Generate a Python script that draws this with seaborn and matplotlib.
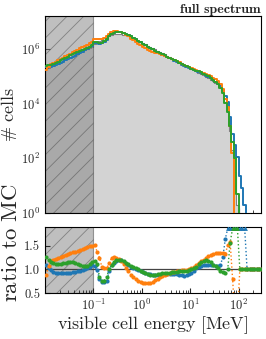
import numpy as np
import pandas as pd
import matplotlib
matplotlib.use("Agg")
import matplotlib.pyplot as plt
import seaborn as sns

# ---------------- data ----------------
# log10 bin edges of visible cell energy [MeV], 20 bins per decade
edges_log = np.linspace(-2.0, 2.5, 91)

# MC (reference) log10 counts per bin (nan = empty)
mc_log = [5.28, 5.32, 5.36, 5.41, 5.45, 5.49, 5.53, 5.57, 5.62, 5.66,
          5.70, 5.74, 5.78, 5.83, 5.87, 5.91, 5.95, 5.99, 6.04, 6.08,
          6.17, 6.22, 6.28, 6.34, 6.40, 6.45, 6.49, 6.52, 6.54, 6.55,
          6.55, 6.54, 6.52, 6.50, 6.47, 6.43, 6.39, 6.35, 6.30, 6.26,
          6.22, 6.17, 6.12, 6.08, 6.03, 5.98, 5.94, 5.89, 5.84, 5.80,
          5.75, 5.71, 5.66, 5.61, 5.57, 5.52, 5.47, 5.43, 5.38, 5.33,
          5.28, 5.23, 5.18, 5.13, 5.08, 5.03, 4.98, 4.93, 4.88, 4.82,
          4.76, 4.70, 4.60, 4.40, 4.05, 3.70, 3.00, 2.30, 1.50, 0.30] + [np.nan] * 10

INF = np.inf
ratio_blue = [1.10, 1.03, 0.98, 0.95, 0.93, 0.92, 0.92, 0.92, 0.92, 0.92,
              0.93, 0.94, 0.95, 0.96, 0.97, 0.98, 1.00, 1.02, 1.05, 1.09,
              1.07, 0.98, 0.80, 0.74, 0.74, 0.76, 0.96, 1.10, 1.14, 1.18,
              1.19, 1.19, 1.16, 1.12, 1.09, 1.06, 1.04, 1.01, 0.98, 0.96,
              0.95, 0.93, 0.91, 0.90, 0.89, 0.88, 0.88, 0.88, 0.89, 0.90,
              0.91, 0.91, 0.90, 0.90, 0.90, 0.89, 0.88, 0.87, 0.88, 0.90,
              0.93, 0.97, 1.02, 1.06, 1.08, 1.10, 1.10, 1.10, 1.10, 1.09,
              1.08, 1.07, 1.10, 1.26, 1.65] + [INF] * 8 + [1.0] * 7

ratio_orange = [0.88, 1.08, 1.18, 1.21, 1.23, 1.25, 1.27, 1.29, 1.31, 1.33,
                1.34, 1.36, 1.38, 1.39, 1.41, 1.43, 1.45, 1.47, 1.49, 1.50,
                1.52, 1.38, 1.25, 1.05, 1.02, 1.02, 1.14, 1.24, 1.27, 1.25,
                1.22, 1.18, 1.11, 1.04, 0.97, 0.89, 0.84, 0.79, 0.76, 0.74,
                0.72, 0.71, 0.71, 0.72, 0.74, 0.77, 0.80, 0.83, 0.86, 0.89,
                0.91, 0.93, 0.94, 0.95, 0.96, 0.97, 0.98, 0.98, 0.99, 1.00,
                1.02, 1.05, 1.09, 1.13, 1.17, 1.21, 1.25, 1.28, 1.31, 1.33,
                1.34, 1.35, 1.35, 1.34, 1.32, 1.52, 1.58, 0.80, 0.0, 0.0] + [1.0] * 10

ratio_green = [1.26, 1.20, 1.16, 1.14, 1.12, 1.12, 1.12, 1.13, 1.14, 1.15,
               1.16, 1.15, 1.13, 1.11, 1.09, 1.08, 1.07, 1.08, 1.11, 1.16,
               1.18, 1.12, 0.85, 0.76, 0.76, 0.85, 1.00, 1.10, 1.15, 1.19,
               1.20, 1.19, 1.17, 1.14, 1.11, 1.08, 1.05, 1.02, 1.00, 0.97,
               0.95, 0.93, 0.91, 0.89, 0.89, 0.89, 0.90, 0.91, 0.92, 0.93,
               0.93, 0.93, 0.94, 0.95, 0.95, 0.96, 0.96, 0.96, 0.97, 0.99,
               1.00, 1.02, 1.06, 1.12, 1.15, 1.17, 1.19, 1.18, 1.15, 1.10,
               1.07, 1.02, 0.97, 0.94, 0.93, 1.00, 1.57] + [INF] * 3 + [1.0] * 10

# counts in bins where the ratio is off-scale (log10), starting at given bin index
blue_tail_start = 75
blue_tail_log = [4.05, 3.5, 2.9, 2.5, 2.05, 1.35, 0.9, 0.3]
green_tail_start = 77
green_tail_log = [2.6, 2.0, 0.7]

series_names = ["blue", "orange", "green"]
series_colors = ["#1f77b4", "#ff7f0e", "#2ca02c"]

# ---------------- derived ----------------
centers_log = 0.5 * (edges_log[:-1] + edges_log[1:])
centers = 10 ** centers_log
mc_arr = np.array(mc_log, dtype=float)
mc = np.where(np.isnan(mc_arr), 0.0, 10 ** np.nan_to_num(mc_arr))
bin_list = [float(v) for v in edges_log]


def data_counts(ratio, tail_start=None, tail_log=None):
    r = np.array(ratio, dtype=float)
    c = np.where(np.isfinite(r), mc * np.where(np.isfinite(r), r, 0.0), 0.0)
    if tail_log is not None:
        c[tail_start:tail_start + len(tail_log)] = 10 ** np.array(tail_log)
    return c


counts = {
    "blue": data_counts(ratio_blue, blue_tail_start, blue_tail_log),
    "orange": data_counts(ratio_orange),
    "green": data_counts(ratio_green, green_tail_start, green_tail_log),
}
ratios = {"blue": ratio_blue, "orange": ratio_orange, "green": ratio_green}

# ---------------- style ----------------
sns.set_style("ticks")
plt.rcParams["font.family"] = "serif"
plt.rcParams["font.serif"] = ["cmr10", "DejaVu Serif"]
plt.rcParams["mathtext.fontset"] = "cm"
plt.rcParams["axes.formatter.use_mathtext"] = True
plt.rcParams["xtick.direction"] = "in"
plt.rcParams["ytick.direction"] = "in"
plt.rcParams["axes.edgecolor"] = "black"
plt.rcParams["axes.linewidth"] = 0.8
plt.rcParams["hatch.linewidth"] = 0.6

fig = plt.figure(figsize=(2.66, 3.39), dpi=100)
ax = fig.add_axes([45 / 266, 126 / 339, 216 / 266, 197 / 339])
axr = fig.add_axes([45 / 266, 46 / 339, 216 / 266, 66 / 339], sharex=ax)

xmin, xmax = 0.01, 290
ax.set_xscale("log")
ax.set_yscale("log")
axr.set_xscale("log")

# ---- top panel ----
df_mc = pd.DataFrame({"E": centers, "w": mc})
sns.histplot(data=df_mc, x="E", weights="w", bins=bin_list, element="step",
             fill=True, color="lightgray", edgecolor="gray", alpha=1.0,
             linewidth=0.8, ax=ax, zorder=1)
for name, col in zip(series_names, series_colors):
    df = pd.DataFrame({"E": centers, "w": counts[name]})
    sns.histplot(data=df, x="E", weights="w", bins=bin_list, element="step",
                 fill=False, color=col, linewidth=1.4, ax=ax, zorder=3)

ax.axvspan(xmin, 0.1, facecolor="gray", alpha=0.5, hatch="//",
           edgecolor="#444444", linewidth=0.8, zorder=2)
ax.set_xlim(xmin, xmax)
ax.set_ylim(1, 1.6e7)
ax.set_yticks([1, 1e2, 1e4, 1e6])
ax.tick_params(axis="x", labelbottom=False)
ax.tick_params(labelsize=9)
ax.set_xlabel("")
ax.set_ylabel(r"$\#\ \mathrm{cells}$", fontsize=13)
ax.yaxis.set_label_coords(-0.12, 0.5)
ax.set_title("full spectrum", loc="right", fontsize=10, pad=1.5,
             fontfamily=["cmb10", "DejaVu Serif"])

# ---- ratio panel ----
ytop = 1.9
axr.axvspan(xmin, 0.1, facecolor="gray", alpha=0.5, hatch="//",
            edgecolor="#444444", linewidth=0.8, zorder=0)
axr.axhline(1.0, color="#444444", lw=0.9, zorder=1)
for name, col in zip(series_names, series_colors):
    r = np.array(ratios[name], dtype=float)
    over = r > ytop
    r_plot = np.where(over, ytop - 0.03, r)
    sns.lineplot(x=centers, y=r_plot, color=col, linestyle=":", lw=1.0,
                 ax=axr, zorder=2, sort=False, estimator=None)
    sns.scatterplot(x=centers[~over], y=r_plot[~over], color=col, marker="o",
                    s=9, linewidth=0, ax=axr, zorder=3)
    sns.scatterplot(x=centers[over], y=r_plot[over], color=col, marker="^",
                    s=12, linewidth=0, ax=axr, zorder=3)

axr.set_xlim(xmin, xmax)
axr.set_ylim(0.5, ytop)
axr.set_yticks([0.5, 1.0, 1.5])
axr.set_yticklabels(["0.5", "1.0", "1.5"])
axr.set_xticks([0.1, 1, 10, 100])
axr.tick_params(labelsize=9)
axr.set_xlabel(r"$\mathrm{visible\ cell\ energy\ [MeV]}$", fontsize=13, labelpad=1)
axr.set_ylabel(r"$\mathrm{ratio\ to\ MC}$", fontsize=16.5)
axr.yaxis.set_label_coords(-0.11, 0.76)

fig.savefig("out.png", dpi=100)
